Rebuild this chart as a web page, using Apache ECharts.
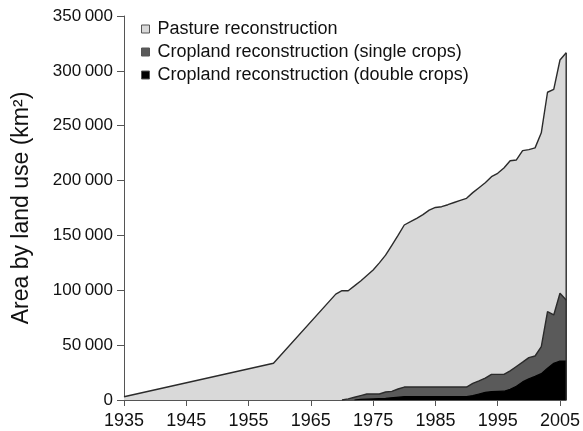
<!DOCTYPE html>
<html>
<head>
<meta charset="utf-8">
<script src="https://cdn.jsdelivr.net/npm/echarts@6/dist/echarts.min.js"></script>
<style>html,body{margin:0;padding:0;background:#fff}#c{width:583px;height:431px}</style>
</head>
<body>
<div id="c"></div>
<script>
var seriesNames = ['Pasture reconstruction', 'Cropland reconstruction (single crops)', 'Cropland reconstruction (double crops)'];
var xTicks = [1935, 1945, 1955, 1965, 1975, 1985, 1995, 2005];
var yTicks = [0, 50000, 100000, 150000, 200000, 250000, 300000, 350000];

var pastureYears = [1935, 1959, 1969, 1970, 1971, 1972, 1973, 1974, 1975, 1976, 1977, 1978, 1979, 1980, 1981, 1982, 1983, 1984, 1985, 1986, 1987, 1988, 1989, 1990, 1991, 1992, 1993, 1994, 1995, 1996, 1997, 1998, 1999, 2000, 2001, 2002, 2003, 2004, 2005, 2006];
var pastureValues = [3000, 33500, 96500, 99600, 99600, 104000, 108500, 113500, 118500, 125000, 132000, 141000, 150000, 159500, 162500, 165600, 169000, 173000, 175500, 176200, 178000, 180000, 182000, 183800, 189000, 193500, 198000, 203500, 206600, 211500, 218100, 218800, 227300, 228200, 229800, 243500, 280500, 283200, 309900, 316500];

var singleYears = [1970, 1971, 1972, 1973, 1974, 1975, 1976, 1977, 1978, 1979, 1980, 1981, 1982, 1983, 1984, 1985, 1986, 1987, 1988, 1989, 1990, 1991, 1992, 1993, 1994, 1995, 1996, 1997, 1998, 1999, 2000, 2001, 2002, 2003, 2004, 2005, 2006];
var singleValues = [0, 1000, 2500, 4000, 5500, 5500, 5500, 7300, 7900, 10000, 11800, 11800, 11800, 11800, 11800, 11800, 11800, 11800, 11800, 11800, 11800, 15200, 17500, 20000, 23400, 23400, 23400, 26500, 30500, 34500, 38600, 40100, 48600, 80500, 77500, 97300, 91200];

var doubleYears = [1972, 1973, 1975, 1977, 1980, 1990, 1991, 1992, 1993, 1994, 1995, 1996, 1997, 1998, 1999, 2000, 2001, 2002, 2003, 2004, 2005, 2006];
var doubleValues = [0, 500, 1000, 1500, 3000, 3000, 4000, 5500, 7000, 7600, 7900, 8000, 9700, 12500, 16500, 19400, 21500, 24000, 29000, 33500, 35500, 35500];

function pairs(xs, ys) { return xs.map(function (x, i) { return [x, ys[i]]; }); }
function fmt(v) {
  if (v === 0) return '0';
  var s = String(v);
  return s.slice(0, s.length - 3) + '\u2009' + s.slice(s.length - 3);
}

var lastYear = pastureYears[pastureYears.length - 1];
var lastVal = pastureValues[pastureValues.length - 1];

var chart = echarts.init(document.getElementById('c'));
var lineCol = '#2b2b2b';
var font = 'Liberation Sans, Arial, sans-serif';
chart.setOption({
  animation: false,
  backgroundColor: '#fff',
  grid: { left: 124, right: 14, top: 16, bottom: 31, containLabel: false },
  legend: {
    orient: 'vertical', left: 136, top: 15, itemWidth: 8, itemHeight: 8, itemGap: 5,
    data: seriesNames.map(function (n) { return { name: n, icon: 'rect' }; }),
    itemStyle: { borderColor: '#555', borderWidth: 1 },
    textStyle: { fontSize: 18, fontFamily: font, color: '#111', padding: [0, 0, 0, 3] }
  },
  xAxis: {
    type: 'value', min: 1935, max: lastYear, interval: 10,
    axisLine: { show: true, lineStyle: { color: '#555', width: 1 } },
    axisTick: { show: true, length: 6, lineStyle: { color: '#555' } },
    axisLabel: { fontSize: 18, fontFamily: font, color: '#111', margin: 12, showMaxLabel: false,
      formatter: function (v) { return xTicks.indexOf(v) >= 0 ? String(v) : ''; } },
    splitLine: { show: false }
  },
  yAxis: {
    type: 'value', min: 0, max: 350000, interval: 50000,
    name: 'Area by land use (km²)', nameLocation: 'middle', nameGap: 91,
    nameTextStyle: { fontSize: 23, fontFamily: font, color: '#111' },
    axisLine: { show: true, lineStyle: { color: '#555', width: 1 } },
    axisTick: { show: true, length: 7, lineStyle: { color: '#555' } },
    axisLabel: { fontSize: 17, fontFamily: font, color: '#111', margin: 11,
      formatter: function (v) { return yTicks.indexOf(v) >= 0 ? fmt(v) : ''; } },
    splitLine: { show: false }
  },
  series: [
    { name: seriesNames[0], type: 'line', symbol: 'none', data: pairs(pastureYears, pastureValues),
      lineStyle: { color: lineCol, width: 1.4 }, itemStyle: { color: '#d9d9d9', borderColor: '#555' },
      areaStyle: { color: '#d9d9d9', opacity: 1 }, z: 2 },
    { name: seriesNames[1], type: 'line', symbol: 'none', data: pairs(singleYears, singleValues),
      lineStyle: { color: lineCol, width: 1.4 }, itemStyle: { color: '#5a5a5a', borderColor: '#555' },
      areaStyle: { color: '#5a5a5a', opacity: 1 }, z: 3 },
    { name: seriesNames[2], type: 'line', symbol: 'none', data: pairs(doubleYears, doubleValues),
      lineStyle: { color: '#000', width: 1.2 }, itemStyle: { color: '#000', borderColor: '#555' },
      areaStyle: { color: '#000', opacity: 1 }, z: 4 },
    { name: 'edge', type: 'line', symbol: 'none', silent: true, data: [[lastYear, 0], [lastYear, lastVal]],
      lineStyle: { color: lineCol, width: 1.4 }, z: 5 }
  ]
});
</script>
</body>
</html>
